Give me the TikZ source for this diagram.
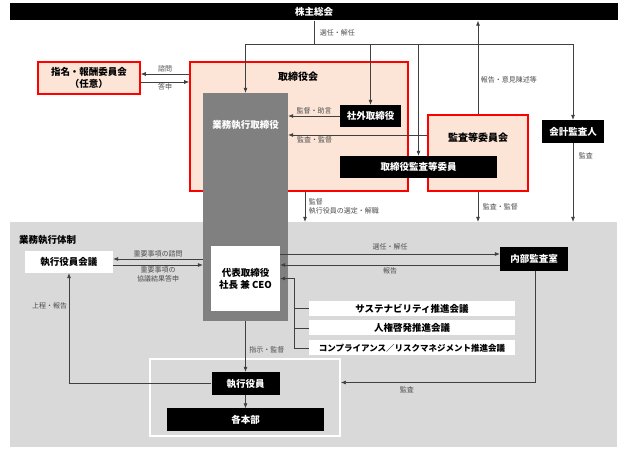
\documentclass[tikz,border=0pt]{standalone}
\usepackage{fontspec}
\setmainfont{Noto Sans CJK JP}
\usetikzlibrary{arrows.meta}
\definecolor{pinkfill}{HTML}{FCE4D6}
\definecolor{exgray}{HTML}{808080}
\definecolor{areagray}{HTML}{D9D9D9}
\definecolor{linegray}{HTML}{404040}
\definecolor{lblgray}{HTML}{4D4D4D}

\begin{document}
\begin{tikzpicture}[x=1pt,y=-1pt,>={Latex[length=5pt,width=4pt]},
    box/.style={inner sep=0pt,align=center,font=\bfseries\fontsize{9.5}{12}\selectfont},
    blackbox/.style={box,fill=black,text=white},
    whitebox/.style={box,fill=white},
    pinkbox/.style={box,fill=pinkfill,draw=red,line width=1.6pt},
    titletext/.style={box,font=\bfseries\fontsize{10}{12}\selectfont},
    lbl/.style={font=\fontsize{7}{9}\selectfont,text=lblgray,inner sep=1.5pt},
    conn/.style={draw=linegray,line width=0.6pt}]
  \useasboundingbox (0,0) rectangle (625,449);
  \fill[white] (0,0) rectangle (625,449);

  % 業務執行体制
  \node[box,fill=areagray,minimum width=607pt,minimum height=225pt] (area) at (313.5,334.5) {};
  \node[box,anchor=west] (areatitle) at (19,240) {業務執行体制};

  % 株主総会
  \node[blackbox,minimum width=608pt,minimum height=17pt] (kabu) at (314,12) {株主総会};

  % 取締役会・監査等委員会・指名報酬委員会
  \node[pinkbox,minimum width=218pt,minimum height=129pt] (tkk) at (299,126.5) {};
  \node[titletext] (tkktitle) at (298,77) {取締役会};
  \node[pinkbox,minimum width=100pt,minimum height=76pt] (kansa) at (478,153) {};
  \node[titletext] (kansatitle) at (478,138) {監査等委員会};
  \node[pinkbox,minimum width=102pt,minimum height=32pt] (shimei) at (89,78) {指名・報酬委員会\\（任意）};

  % 業務執行取締役
  \node[box,fill=exgray,minimum width=85pt,minimum height=228pt] (gyomu) at (245.5,207) {};
  \node[box,text=white] (gyomutitle) at (245.5,125) {業務執行取締役};
  \node[whitebox,minimum width=69pt,minimum height=65pt] (ceo) at (245.5,278.5) {代表取締役\\社長 兼 CEO};

  \node[blackbox,minimum width=61pt,minimum height=22pt] (shagai) at (370.5,116) {社外取締役};
  \node[blackbox,minimum width=157pt,minimum height=22pt] (tkkansa) at (418.5,167) {取締役監査等委員};
  \node[blackbox,minimum width=62pt,minimum height=23pt] (kaikei) at (573,131.5) {会計監査人};
  \node[blackbox,minimum width=68pt,minimum height=24pt] (naibu) at (534,259) {内部監査室};
  \node[whitebox,minimum width=88pt,minimum height=22pt] (kaigi) at (69,262) {執行役員会議};

  % 推進会議
  \node[whitebox,minimum width=206pt,minimum height=15pt] (sus) at (412,308.5) {サステナビリティ推進会議};
  \node[whitebox,minimum width=206pt,minimum height=15pt] (jinken) at (412,328) {人権啓発推進会議};
  \node[whitebox,minimum width=206pt,minimum height=15pt,font=\bfseries\fontsize{8.5}{10}\selectfont] (comp) at (412,348) {コンプライアンス／リスクマネジメント推進会議};

  % 執行役員・各本部
  \node[box,draw=white,line width=1.8pt,minimum width=190pt,minimum height=77pt] (frame) at (245,397.5) {};
  \node[blackbox,minimum width=68pt,minimum height=23pt] (shikko) at (245.5,383.5) {執行役員};
  \node[blackbox,minimum width=157pt,minimum height=23pt] (honbu) at (245.5,420) {各本部};

  % connectors from 株主総会
  \coordinate (split) at (314,44);
  \draw[conn] (kabu.south -| split) -- (split)
    node[lbl,midway,right,xshift=4pt] (lsenin) {選任・解任};
  \draw[conn,->] (split) -| (gyomu.north);
  \draw[conn,->] (split) -| (kaikei.north);
  \draw[conn,->] (shagai.north |- split) -- (shagai.north);
  \draw[conn,->] (tkkansa.north |- split) -- (tkkansa.north);
  \draw[conn,->] (kansa.north) -- (kansa.north |- kabu.south)
    node[lbl,pos=0.37,right,xshift=1pt] (lhokoku) {報告・意見陳述等};

  % 指名・報酬委員会
  \draw[conn,<-] ([yshift=4pt]shimei.east) -- ([yshift=4pt]shimei.east -| tkk.west)
    node[lbl,midway,above] (lshimon) {諮問};
  \draw[conn,->] ([yshift=-4pt]shimei.east) -- ([yshift=-4pt]shimei.east -| tkk.west)
    node[lbl,midway,below] (ltoshin) {答申};

  % 取締役会の中
  \draw[conn,->] (shagai.west) -- (shagai.west -| gyomu.east)
    node[lbl,midway,above] (ljogen) {監督・助言};
  \draw[conn,->] ([yshift=18pt]kansa.west) -- ([yshift=18pt]kansa.west -| gyomu.east)
    node[lbl,pos=1,anchor=north west,xshift=7pt] (lkansa1) {監査・監督};

  % 業務執行体制へ
  \draw[conn,->] ([xshift=6pt]tkk.south) -- ([xshift=6pt]tkk.south |- area.north)
    node[lbl,midway,right,align=left,xshift=2pt] (lsentei) {監督\\執行役員の選定・解職};
  \draw[conn,->] (kansa.south) -- (kansa.south |- area.north)
    node[lbl,midway,right,xshift=3pt] (lkansa2) {監査・監督};
  \draw[conn,->] (kaikei.south) -- (kaikei.south |- area.north)
    node[lbl,pos=0.16,right,xshift=4pt] (lkansa3) {監査};

  % 執行役員会議
  \draw[conn,->] ([yshift=3pt]kaigi.east -| gyomu.west) -- ([yshift=3pt]kaigi.east)
    node[lbl,midway,above] (ljuyo1) {重要事項の諮問};
  \draw[conn,->] ([yshift=-3pt]kaigi.east) -- ([yshift=-3pt]kaigi.east -| gyomu.west)
    node[lbl,midway,below,align=center] (ljuyo2) {重要事項の\\協議結果答申};

  % 内部監査室
  \draw[conn,->] ([yshift=5pt]naibu.west -| ceo.east) -- ([yshift=5pt]naibu.west)
    node[lbl,midway,above,yshift=2pt] (lsenin2) {選任・解任};
  \draw[conn,->] ([yshift=-6pt]naibu.west) -- ([yshift=-6pt]naibu.west -| ceo.east)
    node[lbl,midway,below,yshift=-1pt] (lhokoku2) {報告};
  \draw[conn,->] ([xshift=1pt]naibu.south) |- ([yshift=15pt]frame.east)
    node[lbl,pos=0.83,below,yshift=-2pt] (lkansa4) {監査};

  % 推進会議から
  \draw[conn,->] (comp.west) -| ([xshift=14pt]ceo.east) -- (ceo.east);
  \draw[conn] (sus.west) -- (sus.west -| comp.west) -- ++(-15,0);
  \draw[conn] (jinken.west) -- ++(-15,0);

  % 執行役員
  \draw[conn,->] (gyomu.south) -- (shikko.north)
    node[lbl,pos=0.57,right,xshift=2pt] (lshiji) {指示・監督};
  \draw[conn,->] (shikko.south) -- (honbu.north);
  \draw[conn,->] (shikko.west) -| (kaigi.south)
    node[lbl,pos=0.85,left] (ljotei) {上程・報告};
\end{tikzpicture}
\end{document}
